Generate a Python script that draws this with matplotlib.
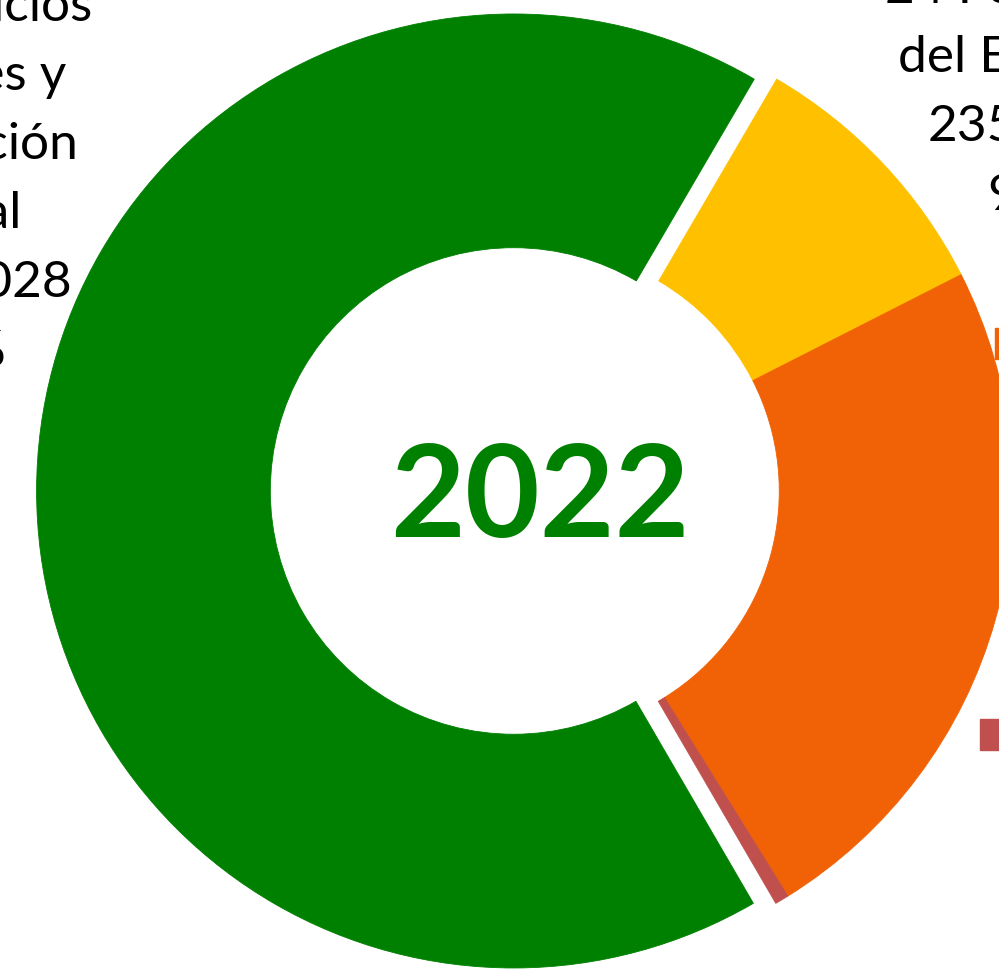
import matplotlib.pyplot as plt
from matplotlib.patches import Rectangle

# datos del grafico (2022)
categorias = ["24 Fomento\ndel Empleo", "Otros", "Otros 2", "23 Servicios\nSociales y\nPromoción\nSocial"]
importes = [235150, 611500, 12200, 1728028]
colores = ["#FFC000", "#F16206", "#C0504D", "#008000"]
anio = "2022"

total = sum(importes)

# escala: 477 px por unidad de radio, centro del anillo en (536, 492) px
ESC = 477.0
CX, CY = 536.0, 492.0


def px(x, y):
    return (x - CX) / ESC, (CY - y) / ESC


fig = plt.figure(figsize=(9.99, 9.70), dpi=100)
ax = fig.add_axes([0, 0, 1, 1])

wedges, _ = ax.pie(importes, colors=colores, startangle=59.7, counterclock=False,
                   explode=[0, 0, 0, 0.047],
                   wedgeprops=dict(width=0.49, linewidth=0))
for w in wedges:
    w.set_edgecolor(w.get_facecolor())
    w.set_linewidth(0.6)

ax.set_xlim(-CX / ESC, (999 - CX) / ESC)
ax.set_ylim(-(970 - CY) / ESC, CY / ESC)
ax.set_aspect("auto")
ax.axis("off")

ax.text(*px(540, 537), anio, ha="center", va="baseline", fontsize=93,
        fontweight="bold", color="#008000", family=["Lato", "DejaVu Sans"])


def fmt(v):
    return f"{v:,}".replace(",", ".")


def etiqueta(i, xc, y0, paso=69):
    lineas = categorias[i].split("\n") + [fmt(importes[i]), f"{importes[i] / total:.0%}"]
    for k, t in enumerate(lineas):
        ax.text(*px(xc, y0 + k * paso), t, ha="center", va="baseline", fontsize=37,
                color="black", family=["Lato", "DejaVu Sans"])


etiqueta(3, -44, 21)
etiqueta(0, 1023, 3)

# claves de leyenda de las etiquetas que quedan fuera del recorte
for (x, y), c in zip([(995, 329), (980, 720)], [colores[1], colores[2]]):
    fig.patches.append(Rectangle((x / 999, 1 - (y + 31) / 970), 31 / 999, 31 / 970,
                                 transform=fig.transFigure, color=c))

fig.savefig("out.png", dpi=100)
